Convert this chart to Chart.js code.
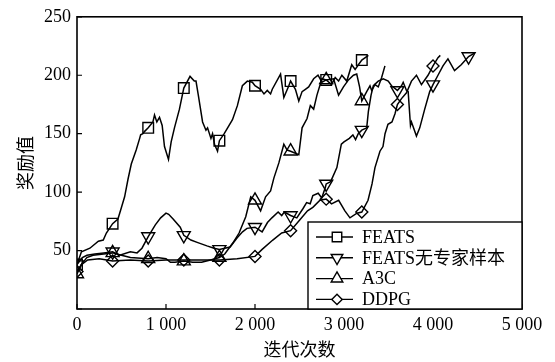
<!DOCTYPE html>
<html>
<head>
<meta charset="utf-8">
<title>奖励值曲线</title>
<script src="https://cdn.jsdelivr.net/npm/chart.js@4.4.1/dist/chart.umd.min.js"></script>
<style>
  body { margin: 0; background: #fff; }
  #wrap { width: 555px; height: 362px; }
</style>
</head>
<body>
<div id="wrap"><canvas id="rewardChart"></canvas></div>
<script>
// [iteration, reward]
const featsData = [[0,38],[50,49],[145,52],[240,58],[295,59],[330,65],[400,73],[460,77],[500,87],[535,96],[573,111],[610,124],[665,136],[704,146],[715,149],[740,150],[760,152],[800,155],[853,160],[871,166],[897,160],[927,164],[957,157],[983,139],[1028,128],[1058,143],[1095,155],[1151,171],[1200,189],[1270,199],[1318,195],[1337,195],[1363,183],[1411,160],[1449,153],[1467,155],[1505,146],[1523,150],[1545,141],[1579,135],[1600,144],[1654,150],[1747,162],[1802,174],[1858,191],[1914,195],[1970,194],[2000,191],[2063,188],[2101,184],[2138,187],[2175,184],[2194,188],[2287,201],[2324,181],[2380,191],[2400,195],[2454,188],[2492,178],[2529,186],[2566,188],[2603,190],[2659,197],[2708,200],[2753,194],[2800,196],[2860,192],[2901,198],[2939,195],[2976,200],[3031,195],[3087,209],[3125,205],[3162,209],[3200,213],[3274,217]];
const noExpertData = [[0,38],[60,44],[112,46],[200,47],[300,48],[400,49],[480,46],[600,49],[675,48],[730,52],[800,62],[880,72],[940,78],[1000,82],[1030,81],[1080,77],[1160,70],[1200,63],[1280,59],[1350,57],[1460,54],[1540,52],[1600,51],[1720,53],[1800,61],[1860,66],[1910,69],[2000,70],[2080,66],[2140,74],[2190,78],[2260,83],[2300,80],[2330,83],[2400,80],[2470,78],[2540,86],[2580,91],[2620,90],[2650,97],[2710,99],[2750,95],[2790,104],[2800,107],[2850,109],[2920,121],[2970,141],[3000,143],[3060,146],[3100,149],[3130,145],[3160,150],[3200,153],[3255,155],[3274,169],[3304,183],[3330,191],[3385,195],[3441,197],[3497,195],[3534,191],[3600,187],[3646,191],[3665,194],[3702,187],[3721,186],[3747,157],[3758,160],[3777,156],[3814,148],[3851,155],[3907,171],[3963,186],[4000,192],[4056,200],[4112,208],[4168,214],[4242,204],[4317,209],[4400,216],[4466,219]];
const a3cData = [[0,30],[50,38],[110,44],[180,46],[300,47],[400,48],[500,46],[600,44],[800,43],[900,44],[1000,43],[1050,40],[1100,40],[1200,41],[1300,40],[1400,40],[1500,42],[1600,44],[1660,47],[1747,56],[1821,65],[1896,79],[1952,96],[2000,93],[2063,84],[2119,96],[2175,101],[2212,112],[2268,125],[2324,141],[2361,136],[2400,135],[2492,132],[2529,155],[2585,163],[2622,174],[2659,171],[2696,183],[2752,197],[2800,196],[2883,197],[2939,183],[2994,190],[3050,196],[3106,200],[3143,201],[3175,190],[3200,178],[3255,186],[3292,191],[3311,187],[3348,192],[3385,190],[3423,198],[3460,208]];
const ddpgData = [[0,32],[50,38],[120,42],[250,43],[400,41],[600,42],[800,41],[1000,42],[1200,42],[1400,42],[1600,42],[1800,43],[2000,45],[2080,51],[2200,59],[2300,65],[2400,67],[2500,76],[2590,84],[2650,87],[2730,93],[2800,94],[2860,90],[2940,93],[3010,84],[3067,78],[3146,82],[3200,83],[3270,93],[3315,107],[3348,121],[3404,135],[3438,139],[3461,150],[3494,158],[3539,160],[3573,167],[3600,175],[3646,180],[3702,185],[3758,195],[3814,200],[3870,192],[3944,200],[4000,208],[4056,215],[4082,217]];

const seriesNames = ['FEATS', 'FEATS无专家样本', 'A3C', 'DDPG'];
const markerIters = [0, 400, 800, 1200, 1600, 2000, 2400, 2800, 3200, 3600, 4000, 4400];
const xTickLabels = ['0', '1 000', '2 000', '3 000', '4 000', '5 000'];
const yTickLabels = ['', '50', '100', '150', '200', '250'];

const serif = "'Liberation Serif', 'Times New Roman', 'Noto Sans CJK SC', serif";

function toPoints(arr) {
    return arr.map(p => ({x: p[0], y: p[1]}));
}

function makeSet(label, arr, style, rot, r) {
    return {
        label: label,
        data: toPoints(arr),
        borderColor: '#000',
        borderWidth: 1.5,
        backgroundColor: 'rgba(0,0,0,0)',
        pointStyle: style,
        rotation: rot,
        markerSize: r,
        pointBorderColor: '#000',
        pointBorderWidth: 1.4,
        pointBackgroundColor: 'rgba(0,0,0,0)',
        pointRadius: ctx => markerIters.includes(ctx.raw.x) ? r : 0,
        pointHoverRadius: 0,
        tension: 0
    };
}

// frame, inward tick marks, boxed legend
const framePlugin = {
    id: 'frame',
    afterDatasetsDraw(chart) {
        const ctx = chart.ctx;
        const a = chart.chartArea;
        const xs = chart.scales.x, ys = chart.scales.y;
        ctx.save();
        ctx.strokeStyle = '#000';
        ctx.lineWidth = 1.6;
        ctx.strokeRect(a.left, a.top, a.right - a.left, a.bottom - a.top);
        ctx.lineWidth = 1.2;
        ctx.beginPath();
        xs.ticks.forEach(t => {
            const px = xs.getPixelForValue(t.value);
            ctx.moveTo(px, a.bottom);
            ctx.lineTo(px, a.bottom - 5);
        });
        ys.ticks.forEach(t => {
            const py = ys.getPixelForValue(t.value);
            ctx.moveTo(a.left, py);
            ctx.lineTo(a.left + 5, py);
        });
        ctx.stroke();

        // legend box
        const w = 214, h = 87;
        const lx = a.right - w, ly = a.bottom - h;
        ctx.fillStyle = '#fff';
        ctx.fillRect(lx, ly, w, h);
        ctx.lineWidth = 1.4;
        ctx.strokeRect(lx, ly, w, h);
        ctx.font = '18px ' + serif;
        ctx.textBaseline = 'middle';
        ctx.textAlign = 'left';
        chart.data.datasets.forEach((ds, i) => {
            const cy = ly + 15 + i * 20.8;
            ctx.strokeStyle = '#000';
            ctx.lineWidth = 1.4;
            ctx.beginPath();
            ctx.moveTo(lx + 8, cy);
            ctx.lineTo(lx + 45, cy);
            ctx.stroke();
            ctx.fillStyle = '#fff';
            Chart.helpers.drawPoint(ctx, {
                pointStyle: ds.pointStyle,
                rotation: ds.rotation,
                radius: ds.markerSize - 0.8,
                borderWidth: 1.3
            }, lx + 29, cy);
            ctx.fillStyle = '#000';
            ctx.fillText(ds.label, lx + 54, cy + 1);
        });
        ctx.restore();
    }
};

new Chart(document.getElementById('rewardChart'), {
    type: 'line',
    data: {
        datasets: [
            makeSet(seriesNames[0], featsData, 'rect', 0, 7.5),
            makeSet(seriesNames[1], noExpertData, 'triangle', 180, 7.5),
            makeSet(seriesNames[2], a3cData, 'triangle', 0, 7.5),
            makeSet(seriesNames[3], ddpgData, 'rectRot', 0, 6)
        ]
    },
    options: {
        responsive: true,
        maintainAspectRatio: false,
        animation: false,
        events: [],
        layout: { autoPadding: false, padding: { left: 0, right: 33, top: 14, bottom: 0 } },
        plugins: { legend: { display: false }, tooltip: { enabled: false } },
        scales: {
            x: {
                type: 'linear',
                min: 0, max: 5000,
                afterFit: s => { s.height = 53; },
                grid: { display: false, drawTicks: false },
                border: { display: false },
                ticks: {
                    stepSize: 1000,
                    padding: 5,
                    color: '#000',
                    font: { family: serif, size: 18 },
                    maxRotation: 0,
                    callback: (v, i) => xTickLabels[i]
                },
                title: {
                    display: true,
                    text: '迭代次数',
                    color: '#000',
                    font: { family: serif, size: 18 },
                    padding: { top: 0, bottom: 0 }
                }
            },
            y: {
                min: 0, max: 250,
                afterFit: s => { s.width = 77; },
                grid: { display: false, drawTicks: false },
                border: { display: false },
                ticks: {
                    stepSize: 50,
                    padding: 6,
                    color: '#000',
                    font: { family: serif, size: 18 },
                    callback: (v, i) => yTickLabels[i]
                },
                title: {
                    display: true,
                    text: '奖励值',
                    color: '#000',
                    font: { family: serif, size: 18 },
                    padding: { top: 16, bottom: 0 }
                }
            }
        }
    },
    plugins: [framePlugin]
});
</script>
</body>
</html>
